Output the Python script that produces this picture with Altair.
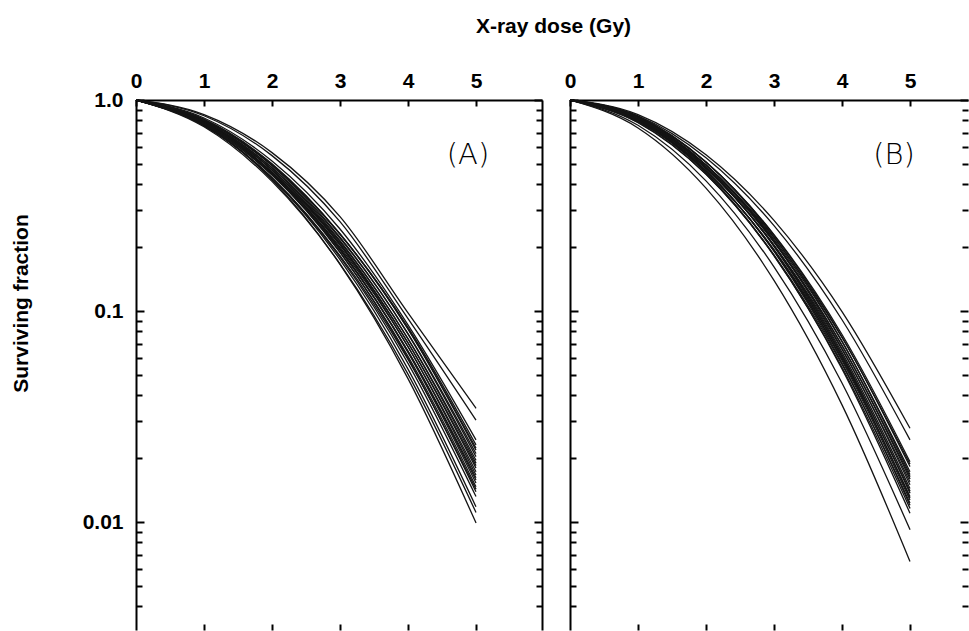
import altair as alt
import pandas as pd

# ---------------- values ----------------
doses = [0, 1, 2, 3, 4, 5]
sf_at_zero = 1.0

# Panel A: surviving fraction of each curve at 1, 2, 3, 4 and 5 Gy
a_sf_1gy = [0.8534, 0.8422, 0.8217, 0.8005, 0.8115, 0.7911, 0.8028, 0.7825, 0.7941, 0.7861, 0.7724, 0.7900,
            0.7758, 0.7810, 0.7674, 0.7780, 0.7580, 0.7606, 0.7614, 0.8057, 0.7745, 0.7643, 0.7543, 0.7468]
a_sf_2gy = [0.5632, 0.5450, 0.5140, 0.4915, 0.4989, 0.4784, 0.4874, 0.4673, 0.4761, 0.4664, 0.4524, 0.4664,
            0.4513, 0.4544, 0.4408, 0.4475, 0.4281, 0.4255, 0.4188, 0.4946, 0.4573, 0.4426, 0.4283, 0.4115]
a_sf_3gy = [0.2800, 0.2650, 0.2448, 0.2315, 0.2323, 0.2212, 0.2238, 0.2129, 0.2155, 0.2089, 0.2010, 0.2057,
            0.1969, 0.1970, 0.1895, 0.1903, 0.1801, 0.1751, 0.1664, 0.2313, 0.2059, 0.1941, 0.1830, 0.1673]
a_sf_4gy = [0.0980, 0.0920, 0.0860, 0.0837, 0.0820, 0.0782, 0.0777, 0.0740, 0.0737, 0.0706, 0.0677, 0.0678,
            0.0644, 0.0636, 0.0610, 0.0598, 0.0565, 0.0530, 0.0478, 0.0824, 0.0707, 0.0645, 0.0589, 0.0502]
a_sf_5gy = [0.0346, 0.0304, 0.0245, 0.0232, 0.0219, 0.0211, 0.0204, 0.0196, 0.0190, 0.0180, 0.0173, 0.0167,
            0.0158, 0.0153, 0.0147, 0.0139, 0.0132, 0.0118, 0.0099, 0.0224, 0.0185, 0.0162, 0.0143, 0.0111]

# Panel B: surviving fraction of each curve at 1, 2, 3, 4 and 5 Gy
b_sf_1gy = [0.8527, 0.8417, 0.8270, 0.8131, 0.8319, 0.8169, 0.8357, 0.8086, 0.8209, 0.8004, 0.8253, 0.8109,
            0.7908, 0.8158, 0.7952, 0.8205, 0.8004, 0.7804, 0.8050, 0.7848, 0.7958, 0.7591, 0.7368]
b_sf_2gy = [0.5503, 0.5329, 0.5068, 0.4927, 0.5086, 0.4921, 0.5078, 0.4820, 0.4919, 0.4720, 0.4926, 0.4778,
            0.4589, 0.4798, 0.4600, 0.4815, 0.4628, 0.4441, 0.4641, 0.4453, 0.4522, 0.4139, 0.3822]
b_sf_3gy = [0.2688, 0.2538, 0.2301, 0.2225, 0.2285, 0.2186, 0.2243, 0.2118, 0.2151, 0.2051, 0.2127, 0.2046,
            0.1954, 0.2034, 0.1936, 0.2020, 0.1933, 0.1843, 0.1916, 0.1826, 0.1835, 0.1620, 0.1396]
b_sf_4gy = [0.0994, 0.0909, 0.0774, 0.0749, 0.0754, 0.0716, 0.0720, 0.0686, 0.0687, 0.0657, 0.0664, 0.0637,
            0.0610, 0.0622, 0.0593, 0.0606, 0.0583, 0.0558, 0.0567, 0.0541, 0.0532, 0.0456, 0.0359]
b_sf_5gy = [0.0278, 0.0245, 0.0193, 0.0188, 0.0183, 0.0173, 0.0168, 0.0164, 0.0160, 0.0155, 0.0150, 0.0144,
            0.0140, 0.0137, 0.0132, 0.0130, 0.0127, 0.0123, 0.0120, 0.0116, 0.0110, 0.0092, 0.0065]

x_label_values = [0, 1, 2, 3, 4, 5]
x_tick_values = [1, 2, 3, 4, 5]
y_major_values = [1, 0.1, 0.01]
y_major_labels = ["1.0", "0.1", "0.01"]
y_minor_values = [0.9, 0.8, 0.7, 0.6, 0.5, 0.4, 0.3, 0.2,
                  0.09, 0.08, 0.07, 0.06, 0.05, 0.04, 0.03, 0.02,
                  0.009, 0.008, 0.007, 0.006, 0.005, 0.004]
panel_labels = ["(A)", "(B)"]
x_title = "X-ray dose (Gy)"
y_title = "Surviving fraction"

# ---------------- layout / style ----------------
FONT = "Liberation Sans, Arial, Helvetica, sans-serif"
LABEL_FONT = "DejaVu Sans, Liberation Sans, sans-serif"
PX_PER_GY = 68.0
A_WIDTH, B_WIDTH, HEIGHT = 406, 398, 530
DECADE_PX = 211.0
Y_MIN = 10 ** (-HEIGHT / DECADE_PX)


def curves_frame(cols):
    rows = []
    for i in range(len(cols[0])):
        rows.append({"curve": i, "dose": doses[0], "sf": sf_at_zero})
        for d, col in zip(doses[1:], cols):
            rows.append({"curve": i, "dose": d, "sf": col[i]})
    return pd.DataFrame(rows)


df_a = curves_frame([a_sf_1gy, a_sf_2gy, a_sf_3gy, a_sf_4gy, a_sf_5gy])
df_b = curves_frame([b_sf_1gy, b_sf_2gy, b_sf_3gy, b_sf_4gy, b_sf_5gy])

AX = dict(grid=False, labelFont=FONT, labelFontSize=21, labelFontWeight="bold", labelColor="black",
          tickColor="black", tickWidth=2, domainColor="black", domainWidth=2,
          titleFont=FONT, titleFontSize=21, titleFontWeight="bold", titleColor="black")


def axis(orient, **kw):
    d = dict(AX)
    d.update(dict(orient=orient, domain=False, ticks=False, labels=False, title=None))
    d.update(kw)
    return alt.Axis(**d)


label_expr = ""
for v, t in zip(y_major_values, y_major_labels):
    label_expr += f"datum.value > {v * 0.5} ? '{t}' : "
label_expr += "''"


def panel(df, width, label, first):
    xs = alt.Scale(domain=[0, width / PX_PER_GY], nice=False, zero=False)
    ys = alt.Scale(type="log", domain=[Y_MIN, 1], nice=False)
    base = alt.Chart(df)

    def enc(chart, x_axis, y_axis):
        return chart.encode(
            x=alt.X("dose:Q", scale=xs, axis=x_axis),
            y=alt.Y("sf:Q", scale=ys, axis=y_axis),
            detail="curve:N",
        )

    top_kw = dict(values=x_label_values, labels=True, ticks=True, tickSize=6, offset=-6,
                  labelPadding=9, labelFlush=False, labelOverlap=False)
    left_kw = dict(values=y_major_values, ticks=True, tickSize=8, offset=-8)
    if first:
        top_kw.update(title=x_title, titleX=417, titleY=-74, titleAlign="center",
                      titleBaseline="alphabetic", titleAngle=0)
        left_kw.update(labels=True, labelPadding=13, labelExpr=label_expr, labelOverlap=False,
                       title=y_title, titleX=-123, titleY=203, titleAngle=270,
                       titleAlign="center", titleBaseline="middle")

    lines = enc(base.mark_line(interpolate="monotone", color="#141414", strokeWidth=1.3),
                axis("top", **top_kw), axis("left", **left_kw))
    frame = enc(base.mark_line(opacity=0), axis("top", domain=True), axis("left", domain=True))
    minor = enc(base.mark_line(opacity=0),
                axis("bottom", values=x_tick_values, ticks=True, tickSize=6, offset=-6),
                axis("left", values=y_minor_values, ticks=True, tickSize=6, offset=-6))
    r_major = enc(base.mark_line(opacity=0), None,
                  axis("right", values=y_major_values, ticks=True, tickSize=8, offset=-8))
    r_minor = enc(base.mark_line(opacity=0), None,
                  axis("right", values=y_minor_values, ticks=True, tickSize=6, offset=-6))
    layers = [lines, frame, minor, r_major, r_minor]
    if first:
        layers.append(enc(base.mark_line(opacity=0), None, axis("right", domain=True)))
    text = alt.Chart(pd.DataFrame({"name": [label]})).mark_text(
        font=LABEL_FONT, fontSize=29, fontWeight=300, color="black", align="center", baseline="middle"
    ).encode(text="name:N", x=alt.value(width - 74), y=alt.value(55))
    layers.append(text)
    return alt.layer(*layers).resolve_axis(x="independent", y="independent").properties(
        width=width, height=HEIGHT)


chart = alt.hconcat(
    panel(df_a, A_WIDTH, panel_labels[0], True),
    panel(df_b, B_WIDTH, panel_labels[1], False),
    spacing=28,
).properties(
    bounds="flush",
    padding={"left": 10, "top": 15, "right": 0, "bottom": 0},
).configure_view(stroke=None)

chart.save("out.html", embed_options={"renderer": "svg", "actions": False})
